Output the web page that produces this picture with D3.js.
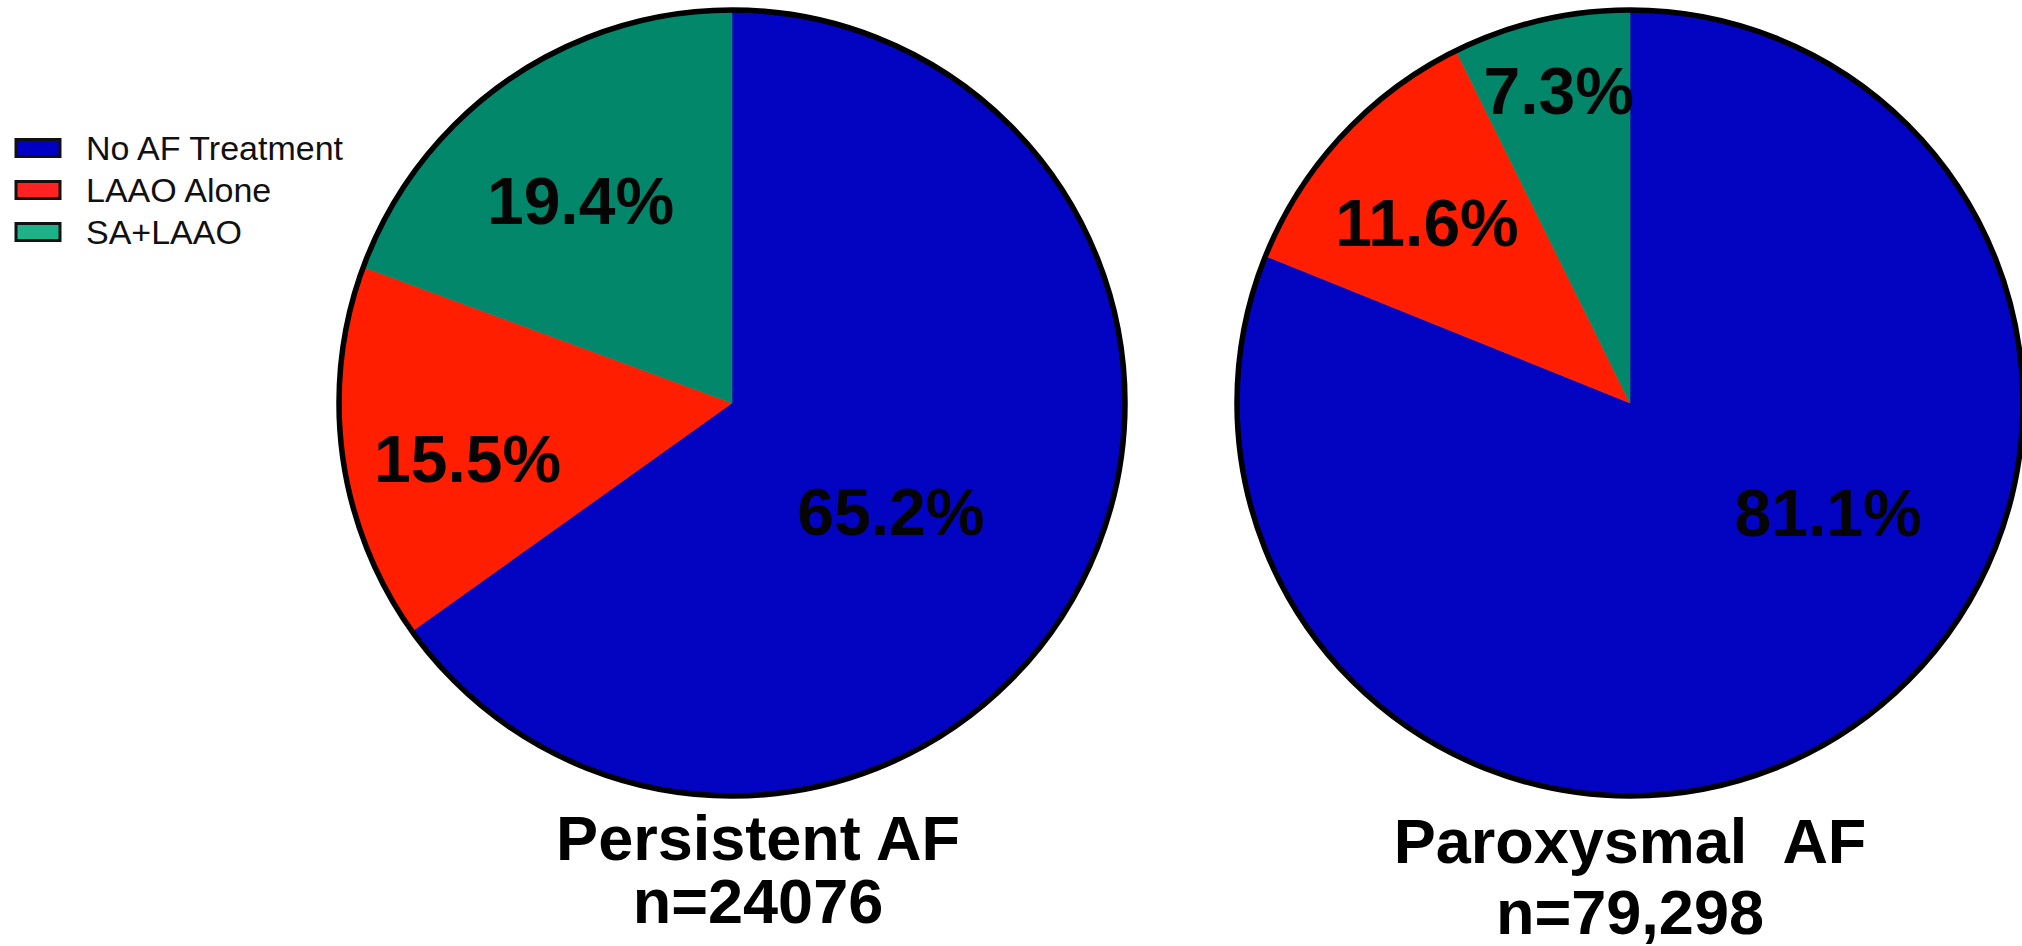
<!DOCTYPE html>
<html>
<head>
<meta charset="utf-8">
<script src="https://cdn.jsdelivr.net/npm/d3@7/dist/d3.min.js"></script>
<style>
  html, body { margin: 0; padding: 0; background: #ffffff; overflow: hidden; }
  svg { display: block; }
  text { font-family: "Liberation Sans", Arial, Helvetica, sans-serif; }
</style>
</head>
<body>
<svg id="chart" width="2022" height="946"></svg>
<script>
// Treatment groups, in slice order (clockwise from 12 o'clock)
const categories = ["No AF Treatment", "LAAO Alone", "SA+LAAO"];

// Share of patients (%) in each group
const persistentValues = [65.2, 15.5, 19.4];
const paroxysmalValues = [81.1, 11.6, 7.3];

// Panel titles
const persistentTitle = ["Persistent AF", "n=24076"];
const paroxysmalTitle = ["Paroxysmal\u00a0\u00a0AF", "n=79,298"];

// Styling
const sliceColors = ["#0303c2", "#ff1f00", "#03876a"];
const legendColors = ["#0000c4", "#ff2222", "#1db389"];

const svg = d3.select("#chart");

const color = d3.scaleOrdinal().domain(categories).range(sliceColors);
const legendColor = d3.scaleOrdinal().domain(categories).range(legendColors);

const radius = 393;
const pie = d3.pie().sort(null).value(d => d.value);
const arc = d3.arc().innerRadius(0).outerRadius(radius);

// Label placement per slice: angular nudge (deg) from the slice mid-angle and distance from centre
const panels = [
  {
    values: persistentValues, title: persistentTitle,
    cx: 732, cy: 403, titleX: 758, titleY: [860, 923],
    labelShift: [6.9, -4.1, -1.9], labelDist: [192, 270, 253]
  },
  {
    values: paroxysmalValues, title: paroxysmalTitle,
    cx: 1630, cy: 403, titleX: 1630, titleY: [863, 934],
    labelShift: [-27.2, -1.1, 0.3], labelDist: [226, 272, 321]
  }
];

panels.forEach(p => {
  const data = categories.map((c, i) => ({ category: c, value: p.values[i] }));
  const arcs = pie(data);
  const g = svg.append("g").attr("transform", `translate(${p.cx},${p.cy})`);

  g.selectAll("path.slice")
    .data(arcs)
    .join("path")
    .attr("class", "slice")
    .attr("d", arc)
    .attr("fill", d => color(d.data.category))
    .attr("stroke", d => color(d.data.category))
    .attr("stroke-width", 0.6);

  // outer rim
  g.append("circle")
    .attr("r", radius)
    .attr("fill", "none")
    .attr("stroke", "#000")
    .attr("stroke-width", 5.5);

  // percentage labels
  g.selectAll("text.pct")
    .data(arcs)
    .join("text")
    .attr("class", "pct")
    .attr("transform", (d, i) => {
      const a = (d.startAngle + d.endAngle) / 2 + p.labelShift[i] * Math.PI / 180;
      const r = p.labelDist[i];
      return `translate(${Math.sin(a) * r},${-Math.cos(a) * r})`;
    })
    .attr("text-anchor", "middle")
    .attr("dy", "0.36em")
    .attr("font-size", 66)
    .attr("font-weight", "bold")
    .attr("fill", "#050505")
    .text(d => d3.format(".1f")(d.data.value) + "%");

  // title below the pie
  p.title.forEach((t, i) => {
    svg.append("text")
      .attr("x", p.titleX)
      .attr("y", p.titleY[i])
      .attr("text-anchor", "middle")
      .attr("font-size", 63)
      .attr("font-weight", "bold")
      .attr("fill", "#000")
      .text(t);
  });
});

// legend
const legend = svg.append("g").attr("transform", "translate(15,0)");
const legendY = d3.scalePoint().domain(categories).range([148, 232]);
const rows = legend.selectAll("g.row")
  .data(categories)
  .join("g")
  .attr("class", "row")
  .attr("transform", d => `translate(0,${legendY(d)})`);

rows.append("rect")
  .attr("x", 1).attr("y", -8.5)
  .attr("width", 44).attr("height", 17)
  .attr("fill", d => legendColor(d))
  .attr("stroke", "#111")
  .attr("stroke-width", 3);

rows.append("text")
  .attr("x", 71)
  .attr("y", 12)
  .attr("font-size", 34)
  .attr("fill", "#111")
  .text(d => d);
</script>
</body>
</html>
